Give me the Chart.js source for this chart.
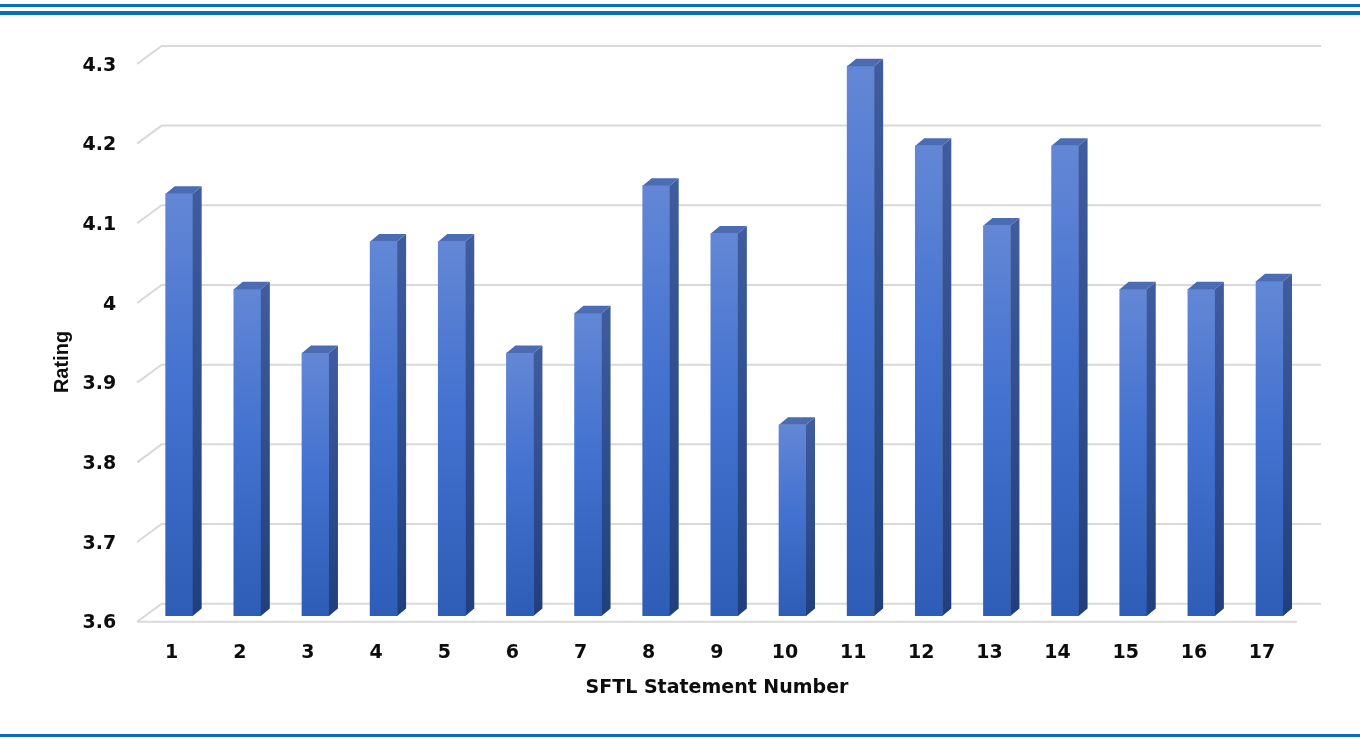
<!DOCTYPE html>
<html>
<head>
<meta charset="utf-8">
<script src="https://cdn.jsdelivr.net/npm/chart.js@4/dist/chart.umd.min.js"></script>
<style>
  body { margin: 0; background: #fff; }
  #wrap { position: relative; width: 1360px; height: 739px; }
  .rule { position: absolute; left: 0; width: 1360px; background: #0b6dbf; }
</style>
</head>
<body>
<div id="wrap">
  <canvas id="myChart"></canvas>
  <div class="rule" style="top:4px;height:3px"></div>
  <div class="rule" style="top:11px;height:4px"></div>
  <div class="rule" style="top:734px;height:3px"></div>
</div>
<script>
// data
const categories = ['1','2','3','4','5','6','7','8','9','10','11','12','13','14','15','16','17'];
const ratings = [4.13, 4.01, 3.93, 4.07, 4.07, 3.93, 3.98, 4.14, 4.08, 3.84, 4.29, 4.19, 4.09, 4.19, 4.01, 4.01, 4.02];
const yTicks = [3.6, 3.7, 3.8, 3.9, 4.0, 4.1, 4.2, 4.3];
const xTitle = 'SFTL Statement Number';
const yTitle = 'Rating';

const tickFont = {family: 'DejaVu Sans', weight: 'bold', size: 19};

// bar front face: lighter at top, darker at the floor
function frontFill(c) {
    const chart = c.chart;
    const ys = chart.scales.y;
    if (!ys || c.type !== 'data') return '#3f6fcf';
    const top = ys.getPixelForValue(c.raw);
    const bottom = ys.getPixelForValue(yTicks[0]);
    if (!isFinite(top) || !isFinite(bottom) || top === bottom) return '#3f6fcf';
    const g = chart.ctx.createLinearGradient(0, top, 0, bottom);
    g.addColorStop(0, '#6387d5');
    g.addColorStop(0.45, '#4372d0');
    g.addColorStop(1, '#2d5db6');
    return g;
}

// fake 3d: slanted grid planes, bar sides and tops, axis titles
const threeD = {
    id: 'threeD',
    beforeDatasetsDraw(chart) {
        const {ctx, chartArea: a, scales: {y}} = chart;
        const fl = a.left - 8, bl = a.left + 16.5, br = a.right + 17.5, fr = a.right - 6.5;
        ctx.save();
        ctx.strokeStyle = '#d9d9d9';
        ctx.lineWidth = 2;
        y.ticks.forEach((t, i) => {
            const p = y.getPixelForValue(t.value);
            const fy = p + 5.7, by = p - 12.3;
            ctx.beginPath();
            ctx.moveTo(fl, fy);
            ctx.lineTo(bl, by);
            ctx.lineTo(br, by);
            if (i === 0) {
                ctx.moveTo(fl, fy);
                ctx.lineTo(fr, fy);
            }
            ctx.stroke();
        });
        ctx.restore();
    },
    afterDatasetsDraw(chart) {
        const ctx = chart.ctx;
        const floor = chart.scales.y.getPixelForValue(yTicks[0]);
        const dx = 9, dy = -7.5;
        ctx.save();
        chart.getDatasetMeta(0).data.forEach(bar => {
            const {x, y, width} = bar.getProps(['x', 'y', 'width'], true);
            const base = floor;
            const l = x - width / 2, r = x + width / 2;
            const g = ctx.createLinearGradient(0, y, 0, base);
            g.addColorStop(0, '#3e5c9e');
            g.addColorStop(1, '#213f7c');
            ctx.fillStyle = g;
            ctx.beginPath();
            ctx.moveTo(r, y);
            ctx.lineTo(r + dx, y + dy);
            ctx.lineTo(r + dx, base + dy);
            ctx.lineTo(r, base);
            ctx.closePath();
            ctx.fill();
            ctx.fillStyle = '#4b6bb3';
            ctx.beginPath();
            ctx.moveTo(l, y);
            ctx.lineTo(l + dx, y + dy);
            ctx.lineTo(r + dx, y + dy);
            ctx.lineTo(r, y);
            ctx.closePath();
            ctx.fill();
        });
        ctx.restore();
    },
    afterDraw(chart) {
        const ctx = chart.ctx;
        ctx.save();
        ctx.fillStyle = '#0d0d0d';
        ctx.textAlign = 'center';
        ctx.textBaseline = 'middle';
        ctx.font = 'bold 19px "DejaVu Sans"';
        ctx.fillText(xTitle, 717, 688);
        ctx.translate(62, 362);
        ctx.rotate(-Math.PI / 2);
        ctx.font = 'bold 20px "Liberation Sans"';
        ctx.fillText(yTitle, 0, 0);
        ctx.restore();
    }
};

const chart = new Chart(document.getElementById('myChart'), {
    type: 'bar',
    data: {
        labels: categories,
        datasets: [{
            label: yTitle,
            data: ratings,
            backgroundColor: frontFill,
            borderWidth: 0,
            barThickness: 27
        }]
    },
    options: {
        responsive: true,
        maintainAspectRatio: false,
        animation: false,
        events: [],
        layout: {padding: {top: 58.2, right: 56.4, left: 0, bottom: 0}},
        plugins: {legend: {display: false}, tooltip: {enabled: false}},
        scales: {
            x: {
                grid: {display: false, drawTicks: false},
                border: {display: false},
                ticks: {color: '#0d0d0d', font: tickFont, padding: 26, labelOffset: -7.5, autoSkip: false, maxRotation: 0},
                afterFit: s => { s.height = 123; }
            },
            y: {
                min: yTicks[0],
                max: yTicks[yTicks.length - 1],
                grid: {display: false, drawTicks: false},
                border: {display: false},
                ticks: {color: '#0d0d0d', font: tickFont, padding: 29, labelOffset: 7.5,
                        callback: v => String(+(+v).toFixed(1))},
                afterBuildTicks: s => { s.ticks = yTicks.map(v => ({value: v})); },
                afterFit: s => { s.width = 145.1; }
            }
        }
    },
    plugins: [threeD]
});
</script>
</body>
</html>
